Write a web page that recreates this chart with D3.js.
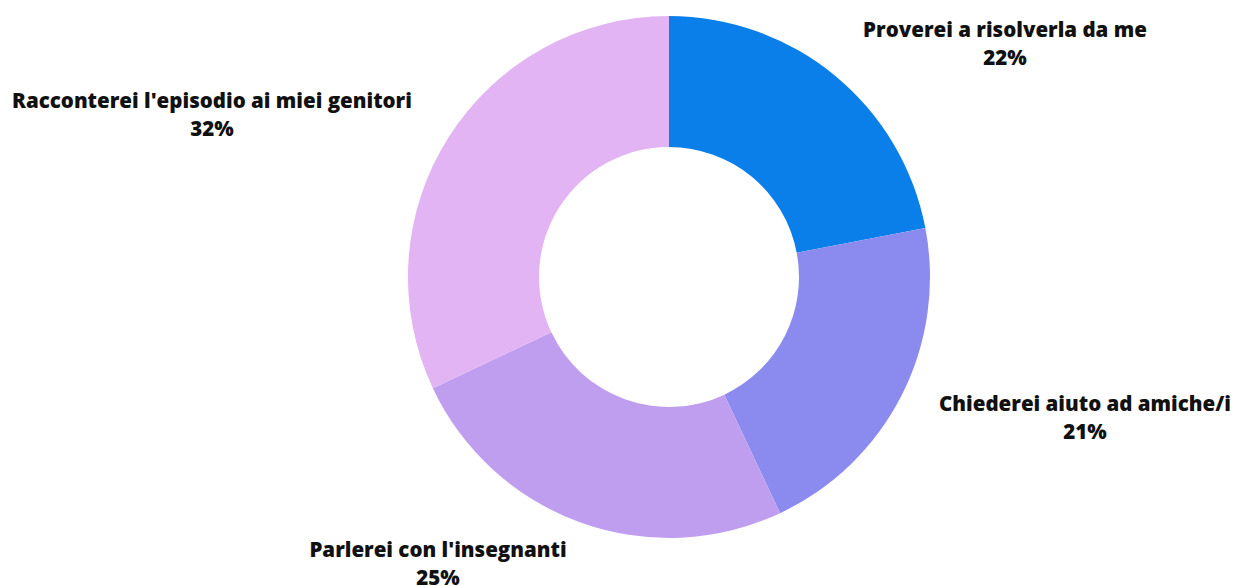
<!DOCTYPE html>
<html>
<head>
<meta charset="utf-8">
<script src="https://cdn.jsdelivr.net/npm/d3@7"></script>
<style>
html,body{margin:0;padding:0;background:#fff;}
svg{display:block;}
text{font-family:"Open Sans",sans-serif;font-weight:800;fill:#111;}
</style>
</head>
<body>
<svg id="chart" width="1235" height="586"></svg>
<script>
const categories = ["Proverei a risolverla da me","Chiederei aiuto ad amiche/i","Parlerei con l'insegnanti","Racconterei l'episodio ai miei genitori"];
const values = [22, 21, 25, 32];
const colors = ["#0b7fe9","#8b8bef","#bf9ef0","#e2b4f3"];
// label anchor positions (center of first line baseline)
const labelPos = [[1005,37],[1085,411],[438,557],[212,108]];

const svg = d3.select("#chart");
const cx = 669, cy = 277, rOuter = 261, rInner = 130;
const g = svg.append("g").attr("transform", `translate(${cx},${cy})`);
const pie = d3.pie().sort(null).value(d => d.v);
const arc = d3.arc().innerRadius(rInner).outerRadius(rOuter);
const data = categories.map((c,i)=>({c, v: values[i], col: colors[i], pos: labelPos[i]}));
g.selectAll("path").data(pie(data)).join("path")
  .attr("d", arc).attr("fill", d => d.data.col);

const lab = svg.selectAll("text.lab").data(data).join("text")
  .attr("class","lab").attr("text-anchor","middle").style("font-size","20.5px");
lab.append("tspan").attr("x", d=>d.pos[0]).attr("y", d=>d.pos[1]).text(d=>d.c);
lab.append("tspan").attr("x", d=>d.pos[0]).attr("y", d=>d.pos[1]+28).text(d=>d.v+"%");
</script>
</body>
</html>
